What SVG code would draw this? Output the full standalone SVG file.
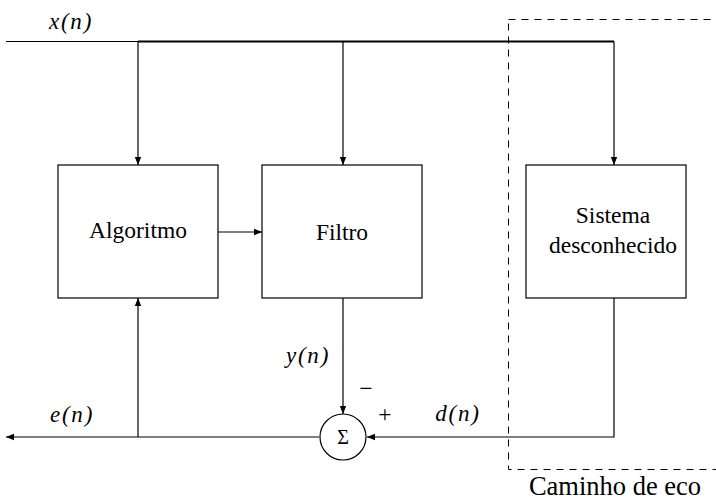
<svg xmlns="http://www.w3.org/2000/svg" width="716" height="503" viewBox="0 0 716 503">
<style>
.box{fill:#fff;stroke:#000;stroke-width:1.2}
.ln{fill:none;stroke:#000;stroke-width:1.2}
.t{font-family:"Liberation Serif","Times New Roman",serif;font-size:23.5px;fill:#000;text-anchor:middle}
.m{font-family:"Liberation Serif","Times New Roman",serif;font-style:italic;font-size:23px;letter-spacing:1.8px;fill:#000;text-anchor:middle}
</style>
<defs>
<marker id="ah" viewBox="0 0 10 10" refX="10" refY="5" markerWidth="8" markerHeight="8" markerUnits="userSpaceOnUse" orient="auto">
<path d="M0,1 L10,5 L0,9 Z" fill="#000"/>
</marker>
</defs>
<rect x="0" y="0" width="716" height="503" fill="#fff"/>
<g id="connectors">
<line class="ln" x1="6" y1="41.5" x2="138" y2="41.5" stroke="#555"/>
<polyline class="ln" points="138,41.5 614,41.5" style="stroke-width:2"/>
<line class="ln" x1="138" y1="41.5" x2="138" y2="165" marker-end="url(#ah)"/>
<line class="ln" x1="343" y1="41.5" x2="343" y2="165" marker-end="url(#ah)"/>
<line class="ln" x1="614" y1="41.5" x2="614" y2="165" marker-end="url(#ah)"/>
<line class="ln" x1="218" y1="232" x2="262" y2="232" marker-end="url(#ah)"/>
<line class="ln" x1="343" y1="298" x2="343" y2="414" marker-end="url(#ah)"/>
<polyline class="ln" points="614,298 614,437 367,437" marker-end="url(#ah)"/>
<line class="ln" x1="319" y1="437" x2="6" y2="437" marker-end="url(#ah)"/>
<line class="ln" x1="138" y1="437" x2="138" y2="298" marker-end="url(#ah)"/>
</g>
<g id="echo-path">
<rect x="508.5" y="19.5" width="212" height="450" fill="none" stroke="#000" stroke-width="1" stroke-dasharray="7,6"/>
<text class="t" x="615" y="495" style="font-size:26.5px">Caminho de eco</text>
</g>
<g id="algoritmo">
<rect class="box" x="58" y="165" width="160" height="133"/>
<text class="t" x="138" y="238">Algoritmo</text>
</g>
<g id="filtro">
<rect class="box" x="262" y="165" width="160" height="133"/>
<text class="t" x="342" y="240">Filtro</text>
</g>
<g id="sistema">
<rect class="box" x="526" y="165" width="160" height="133"/>
<text class="t" x="613" y="223">Sistema</text>
<text class="t" x="613" y="253">desconhecido</text>
</g>
<g id="sum">
<circle cx="343" cy="437" r="23" fill="#fff" stroke="#000" stroke-width="1.2"/>
<text class="t" x="343" y="444" style="font-size:20px">Σ</text>
</g>
<g id="labels">
<text class="m" x="71" y="29">x(n)</text>
<text class="m" x="72" y="422">e(n)</text>
<text class="m" x="308" y="363">y(n)</text>
<text class="m" x="458" y="421">d(n)</text>
<text class="t" x="366" y="396">−</text>
<text class="t" x="385" y="422">+</text>
</g>
</svg>
